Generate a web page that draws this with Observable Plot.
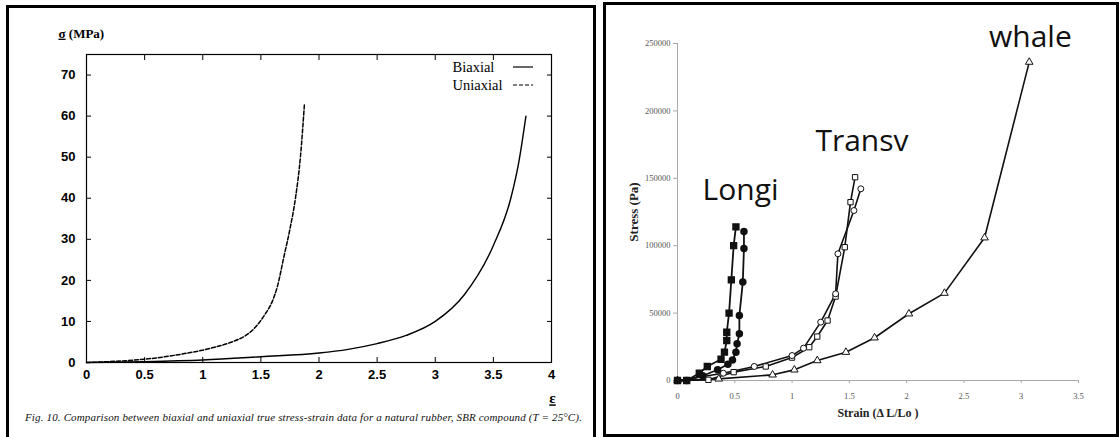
<!DOCTYPE html>
<html><head><meta charset="utf-8">
<script src="https://cdn.jsdelivr.net/npm/d3@7"></script>
<script src="https://cdn.jsdelivr.net/npm/@observablehq/plot@0.6"></script>
<style>
html,body{margin:0;padding:0;background:#fff;width:1119px;height:437px;overflow:hidden;position:relative}
#left{position:absolute;left:6px;top:5px;width:590px;height:440px;border:3px solid #000;box-sizing:border-box;}
#right{position:absolute;left:603px;top:2px;width:516px;height:435px;border:3px solid #000;box-sizing:border-box;}
#caption{position:absolute;left:16px;top:404px;font:italic 11px "Liberation Serif",serif;letter-spacing:0.15px;line-height:11px;white-space:nowrap;color:#111}
#left svg,#right svg{position:absolute;left:0;top:0;overflow:visible}
</style>
</head><body>
<div id="left"><div id="caption"></div></div>
<div id="right"></div>
<script>
// ---------- Left chart data ----------
const xTicksLeft = [0, 0.5, 1, 1.5, 2, 2.5, 3, 3.5, 4];
const yTicksLeft = [0, 10, 20, 30, 40, 50, 60, 70];
const biaxialStrain = [0, 0.5, 1.0, 1.5, 2.0, 2.25, 2.5, 2.75, 3.0, 3.25, 3.5, 3.65, 3.72, 3.78];
const biaxialStress = [0, 0.2, 0.6, 1.4, 2.3, 3.2, 4.6, 6.6, 10, 16.5, 28.5, 40, 49, 60];
const uniaxialStrain = [0, 0.25, 0.5, 0.81, 1.1, 1.25, 1.36, 1.45, 1.53, 1.6, 1.64, 1.70, 1.75, 1.80, 1.84, 1.875];
const uniaxialStress = [0, 0.3, 0.8, 2.0, 3.7, 5.0, 6.4, 8.5, 11.5, 15, 18.3, 26, 32.5, 40.5, 50, 63];
const legendItems = ["Biaxial", "Uniaxial"];
const legendDash = [null, "4,2"];
const sigmaLabel = "σ (MPa)";
const epsLabel = "ε";
const captionText = "Fig. 10.  Comparison between biaxial and uniaxial true stress-strain data for a natural rubber, SBR compound (T = 25°C).";

// ---------- Right chart data ----------
const xTicksRight = [0, 0.5, 1, 1.5, 2, 2.5, 3, 3.5];
const yTicksRight = [0, 50000, 100000, 150000, 200000, 250000];
const longiSqStrain = [0, 0.08, 0.19, 0.26, 0.38, 0.41, 0.43, 0.43, 0.45, 0.47, 0.49, 0.51];
const longiSqStress = [0, 0, 5400, 10400, 15800, 21000, 29700, 35800, 50000, 74700, 100000, 114000];
const longiCiStrain = [0, 0.08, 0.22, 0.35, 0.44, 0.48, 0.51, 0.52, 0.54, 0.54, 0.57, 0.58, 0.58];
const longiCiStress = [0, 0, 3500, 8000, 12000, 15300, 21000, 27200, 34600, 48200, 73000, 98000, 110600];
const transvSqStrain = [0, 0.27, 0.49, 0.77, 1.0, 1.15, 1.22, 1.31, 1.38, 1.46, 1.51, 1.55];
const transvSqStress = [0, 500, 6200, 10400, 17000, 24700, 32600, 44500, 62300, 98900, 132300, 150800];
const transvCiStrain = [0, 0.40, 0.67, 1.0, 1.1, 1.25, 1.38, 1.40, 1.54, 1.60];
const transvCiStress = [0, 5400, 10400, 18500, 24000, 43300, 64300, 94000, 126100, 142200];
const whaleStrain = [0, 0.36, 0.83, 1.02, 1.22, 1.47, 1.72, 2.02, 2.33, 2.68, 3.07];
const whaleStress = [0, 1200, 4200, 7900, 14800, 21000, 31700, 49500, 64800, 105900, 236200];
const annotText = ["Longi", "Transv", "whale"];
const annotStrain = [0.55, 1.61, 3.08];
const annotStress = [133600, 169900, 247100];
const yLabelRight = "Stress (Pa)";
const xLabelRight = "Strain (Δ L/Lo )";

const pts = (xs, ys) => xs.map((x, i) => ({x, y: ys[i]}));
const fmt = d => String(d);

// ---------- Left chart ----------
const tickFontL = {fontSize: 13, fontWeight: "bold", fontFamily: "Liberation Sans, Arial, sans-serif", fill: "#000"};
const leftSvg = Plot.plot({
  width: 584, height: 400,
  marginLeft: 77, marginRight: 42, marginTop: 46, marginBottom: 46,
  style: {background: "transparent", overflow: "visible"},
  x: {domain: [0, 4], label: null},
  y: {domain: [0, 75], label: null},
  marks: [
    Plot.frame({stroke: "#000", strokeWidth: 1.2}),
    Plot.axisX(xTicksLeft, {anchor: "bottom", tickSize: 0, tickPadding: 7, tickFormat: fmt, label: null, ...tickFontL}),
    Plot.axisX(xTicksLeft, {anchor: "bottom", text: null, tickSize: 5, dy: -5, label: null, stroke: "#000"}),
    Plot.axisX(xTicksLeft, {anchor: "top", text: null, tickSize: 5, dy: 5, label: null, stroke: "#000"}),
    Plot.axisY(yTicksLeft, {anchor: "left", tickSize: 0, tickPadding: 11, tickFormat: fmt, label: null, ...tickFontL}),
    Plot.axisY(yTicksLeft, {anchor: "left", text: null, tickSize: 5, dx: 5, label: null, stroke: "#000"}),
    Plot.axisY(yTicksLeft, {anchor: "right", text: null, tickSize: 5, dx: -5, label: null, stroke: "#000"}),
    Plot.line(pts(biaxialStrain, biaxialStress), {x: "x", y: "y", curve: "monotone-x", stroke: "#000", strokeWidth: 1.4}),
    Plot.line(pts(uniaxialStrain, uniaxialStress), {x: "x", y: "y", curve: "monotone-x", stroke: "#000", strokeWidth: 1.5, strokeDasharray: "4,2"}),
    ...legendItems.map((name, i) => Plot.text([name], {frameAnchor: "top-right", dx: -99, dy: 13 + i * 18, textAnchor: "start", lineAnchor: "middle", fontSize: 14.5, fontFamily: "Liberation Serif, serif", fill: "#000"})),
    (index, scales, values, dims) => {
      const g = d3.create("svg:g");
      const x0 = dims.width - dims.marginRight - 38;
      legendItems.forEach((name, i) => {
        const y = dims.marginTop + 13 + i * 18;
        g.append("line").attr("x1", x0).attr("x2", x0 + 20).attr("y1", y).attr("y2", y)
          .attr("stroke", "#000").attr("stroke-width", 1.2).attr("stroke-dasharray", legendDash[i]);
      });
      return g.node();
    },
    Plot.text([sigmaLabel], {frameAnchor: "top-left", dx: -28, dy: -21, textAnchor: "start", lineAnchor: "middle", fontSize: 13, fontWeight: "bold", fontFamily: "Liberation Serif, serif", fill: "#000"}),
    Plot.text([epsLabel], {frameAnchor: "bottom-right", dx: 1, dy: 36, textAnchor: "middle", lineAnchor: "middle", fontSize: 15, fontWeight: "bold", fontFamily: "Liberation Serif, serif", fill: "#000"})
  ]
});
d3.select(leftSvg).selectAll("text").each(function() {
  if (this.textContent === sigmaLabel) {
    const t = d3.select(this); t.text("");
    t.append("tspan").attr("text-decoration", "underline").text("σ");
    t.append("tspan").text(" (MPa)");
  } else if (this.textContent === epsLabel) {
    d3.select(this).attr("text-decoration", "underline");
  }
});
document.getElementById("left").appendChild(leftSvg);
document.getElementById("caption").textContent = captionText;

// ---------- Right chart ----------
const ink = "#111";
const tickFontR = {fontSize: 8.5, fontFamily: "Liberation Serif, serif", fill: "#555"};
const rightSvg = Plot.plot({
  width: 510, height: 429,
  marginLeft: 71, marginRight: 38, marginTop: 38, marginBottom: 54,
  style: {background: "transparent", overflow: "visible"},
  x: {domain: [0, 3.5], label: null},
  y: {domain: [0, 250000], label: null},
  marks: [
    Plot.ruleY([0], {stroke: "#a8a8a8"}),
    Plot.ruleX([0], {stroke: "#a8a8a8"}),
    Plot.axisY(yTicksRight, {anchor: "left", tickSize: 4, tickPadding: 3, stroke: "#a8a8a8", tickFormat: fmt, label: null, ...tickFontR}),
    Plot.axisX(xTicksRight, {anchor: "bottom", tickSize: 3, tickPadding: 9, stroke: "#a8a8a8", tickFormat: fmt, label: null, ...tickFontR}),
    Plot.line(pts(whaleStrain, whaleStress), {x: "x", y: "y", stroke: ink, strokeWidth: 1.6}),
    Plot.line(pts(transvSqStrain, transvSqStress), {x: "x", y: "y", stroke: ink, strokeWidth: 1.6}),
    Plot.line(pts(transvCiStrain, transvCiStress), {x: "x", y: "y", stroke: ink, strokeWidth: 1.6}),
    Plot.line(pts(longiSqStrain, longiSqStress), {x: "x", y: "y", stroke: ink, strokeWidth: 1.8}),
    Plot.line(pts(longiCiStrain, longiCiStress), {x: "x", y: "y", stroke: ink, strokeWidth: 1.8}),
    Plot.dot(pts(whaleStrain, whaleStress), {x: "x", y: "y", symbol: "triangle", r: 2.8, fill: "white", stroke: ink, strokeWidth: 1}),
    Plot.dot(pts(transvSqStrain, transvSqStress), {x: "x", y: "y", symbol: "square", r: 3, fill: "white", stroke: ink, strokeWidth: 1}),
    Plot.dot(pts(transvCiStrain, transvCiStress), {x: "x", y: "y", symbol: "circle", r: 3, fill: "white", stroke: ink, strokeWidth: 1}),
    Plot.dot(pts(longiSqStrain, longiSqStress), {x: "x", y: "y", symbol: "square", r: 3.3, fill: ink, stroke: ink}),
    Plot.dot(pts(longiCiStrain, longiCiStress), {x: "x", y: "y", symbol: "circle", r: 3, fill: ink, stroke: ink}),
    Plot.text(annotText, {x: (d, i) => annotStrain[i], y: (d, i) => annotStress[i], text: d => d, textAnchor: "middle", lineAnchor: "bottom", fontSize: 30, fontFamily: "Open Sans, sans-serif", fill: "#111"}),
    Plot.text([yLabelRight], {frameAnchor: "left", rotate: -90, dx: -44, textAnchor: "middle", lineAnchor: "middle", fontSize: 13, fontWeight: "bold", fontFamily: "Liberation Serif, serif", fill: "#222"}),
    Plot.text([xLabelRight], {frameAnchor: "bottom", dy: 33, textAnchor: "middle", lineAnchor: "middle", fontSize: 12, fontWeight: "bold", fontFamily: "Liberation Serif, serif", fill: "#222"})
  ]
});
document.getElementById("right").appendChild(rightSvg);
</script>
</body></html>
